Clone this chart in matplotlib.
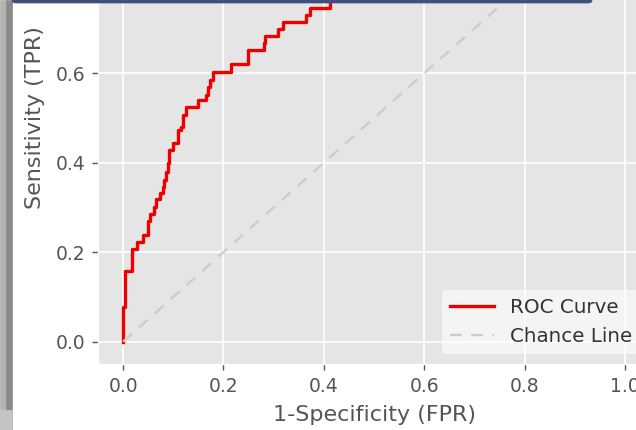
import matplotlib
matplotlib.use("Agg")
import matplotlib.pyplot as plt
from matplotlib.patches import Rectangle, FancyBboxPatch

# ROC curve corner points (upper part is cropped in the reference)
FPR = [0.0, 0.0, 0.004, 0.017, 0.028, 0.039, 0.050, 0.054, 0.062, 0.066, 0.074,
       0.079, 0.082, 0.085, 0.089, 0.092, 0.100, 0.110, 0.116, 0.120, 0.125,
       0.149, 0.165, 0.169, 0.174, 0.179, 0.215, 0.248, 0.280, 0.283, 0.308,
       0.318, 0.365, 0.373, 0.413, 0.46, 0.52, 0.60, 0.70, 0.82, 0.93, 1.0]
TPR = [0.0, 0.078, 0.158, 0.207, 0.223, 0.239, 0.270, 0.286, 0.302, 0.318, 0.332,
       0.346, 0.361, 0.380, 0.400, 0.428, 0.445, 0.473, 0.480, 0.507, 0.524,
       0.540, 0.551, 0.570, 0.585, 0.603, 0.620, 0.652, 0.667, 0.683, 0.700,
       0.715, 0.730, 0.746, 0.780, 0.810, 0.850, 0.890, 0.930, 0.970, 1.000, 1.0]
CHANCE = [0.0, 1.0]
XTICKS = [0.0, 0.2, 0.4, 0.6, 0.8, 1.0]
YTICKS = [0.0, 0.2, 0.4, 0.6]   # higher ticks fall outside the cropped view

plt.style.use("ggplot")

W, H = 636, 430
fig = plt.figure(figsize=(W / 100, H / 100), dpi=100)
fig.patch.set_facecolor("white")

# axes runs past the top and right edges: the reference is a cropped screenshot
left, right, bottom, top = 98, 650, 364, -128
ax = fig.add_axes([left / W, (H - bottom) / H, (right - left) / W, (bottom - top) / H])

ax.step(FPR, TPR, where="post", color="#ee0000", lw=2.4, label="ROC Curve")
ax.plot(CHANCE, CHANCE, ls="--", color="#cccccc", lw=1.7, dashes=(5, 4), label="Chance Line")

ax.set_xlim(-0.05, 1.05)
ax.set_ylim(-0.05, 1.05)
ax.set_xticks(XTICKS)
ax.set_yticks(YTICKS)
ax.tick_params(labelsize=13.5, colors="#555555", length=4, width=1, pad=5)
ax.set_xlabel("1-Specificity (FPR)", fontsize=16, color="#555555", labelpad=7)
ax.set_ylabel("Sensitivity (TPR)", fontsize=16, color="#555555", labelpad=8)
ax.grid(True, color="white", lw=1.2)

leg = ax.legend(loc="lower right", fontsize=14.3, facecolor="white", framealpha=0.6,
                edgecolor="none", borderaxespad=0.5, handlelength=2.2)
for t in leg.get_texts():
    t.set_color("#333333")

# screenshot frame bits: grey strip on the left, dark blue bar at the top
fig.patches.append(Rectangle((0, 0), 6 / W, 1, transform=fig.transFigure,
                             color="#b3b3b3", zorder=10))
fig.patches.append(Rectangle((6 / W, 0), 6 / W, 1, transform=fig.transFigure,
                             color="#8a8a8a", zorder=10))
fig.patches.append(Rectangle((0, 0), 12 / W, 20 / H, transform=fig.transFigure,
                             color="#c4c4c4", zorder=11))
fig.patches.append(FancyBboxPatch((12 / W, (H - 3) / H), 580 / W, 10 / H,
                                  boxstyle="round,pad=0,rounding_size=0.006",
                                  transform=fig.transFigure, color="#3f5080", zorder=10))

fig.savefig("out.png", dpi=100)
